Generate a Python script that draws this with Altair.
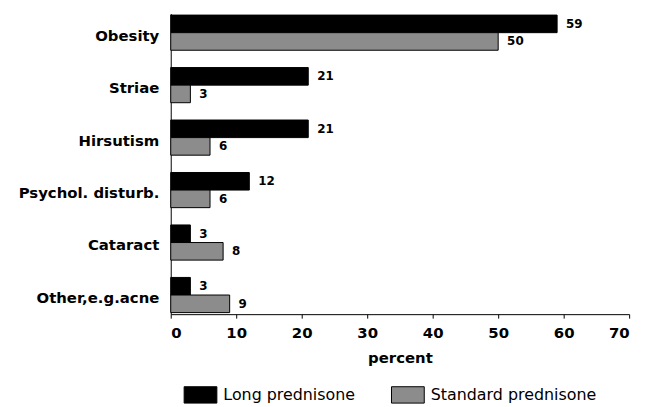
import altair as alt
import pandas as pd

categories = ["Obesity", "Striae", "Hirsutism", "Psychol. disturb.", "Cataract", "Other,e.g.acne"]
series = ["Long prednisone", "Standard prednisone"]
long_pred = [59, 21, 21, 12, 3, 3]
standard_pred = [50, 3, 6, 6, 8, 9]
x_ticks = [0, 10, 20, 30, 40, 50, 60, 70]

rows = []
for c, a, b in zip(categories, long_pred, standard_pred):
    rows.append({"category": c, "series": series[0], "value": a})
    rows.append({"category": c, "series": series[1], "value": b})
df = pd.DataFrame(rows)

FONT = "DejaVu Sans"

y_enc = alt.Y(
    "category:N",
    sort=categories,
    scale=alt.Scale(paddingInner=0.33, paddingOuter=0.03),
    axis=alt.Axis(
        title=None, ticks=False, domainColor="black", labelColor="black",
        labelFont=FONT, labelFontSize=15, labelFontWeight="bold",
        labelPadding=12, labelOffset=3, labelLimit=300,
    ),
)
yoff = alt.YOffset("series:N", sort=series, scale=alt.Scale(paddingInner=0))
x_enc = alt.X(
    "value:Q",
    scale=alt.Scale(domain=[0, 70], nice=False),
    axis=alt.Axis(
        title="percent", values=x_ticks, grid=False, domainColor="black",
        tickColor="black", tickSize=4, labelColor="black", labelFont=FONT,
        labelFontSize=15, labelFontWeight="bold", labelPadding=8,
        titleFont=FONT, titleFontSize=15, titleFontWeight="bold",
        titleColor="black", titlePadding=10,
    ),
)

bars = alt.Chart(df).mark_bar(stroke="black", strokeWidth=1).encode(
    x=x_enc,
    y=y_enc,
    yOffset=yoff,
    color=alt.Color(
        "series:N",
        sort=series,
        scale=alt.Scale(domain=series, range=["#000000", "#8c8c8c"]),
        legend=alt.Legend(
            title=None, orient="none", direction="horizontal",
            legendX=13, legendY=367, padding=0,
            symbolType="M-1,-0.5H1V0.5H-1Z", symbolSize=1089,
            symbolStrokeColor="black", symbolStrokeWidth=1, symbolOpacity=1,
            labelFont=FONT, labelFontSize=16, labelColor="black",
            labelOffset=6, columnPadding=34, labelLimit=400,
        ),
    ),
)

labels = alt.Chart(df).mark_text(
    align="left", baseline="middle", dx=9, font=FONT, fontSize=12,
    fontWeight="bold", color="black",
).encode(
    x="value:Q",
    y=alt.Y("category:N", sort=categories),
    yOffset=alt.YOffset("series:N", sort=series),
    text="value:Q",
)

chart = (
    alt.layer(bars, labels)
    .properties(
        width=462, height=303,
        autosize=alt.AutoSizeParams(type="none"),
        padding={"left": 164, "top": 4, "right": 20, "bottom": 92},
        background="white",
    )
    .configure_view(stroke="transparent", strokeWidth=0)
)

chart.save("out.html", embed_options={"renderer": "svg", "actions": False})
